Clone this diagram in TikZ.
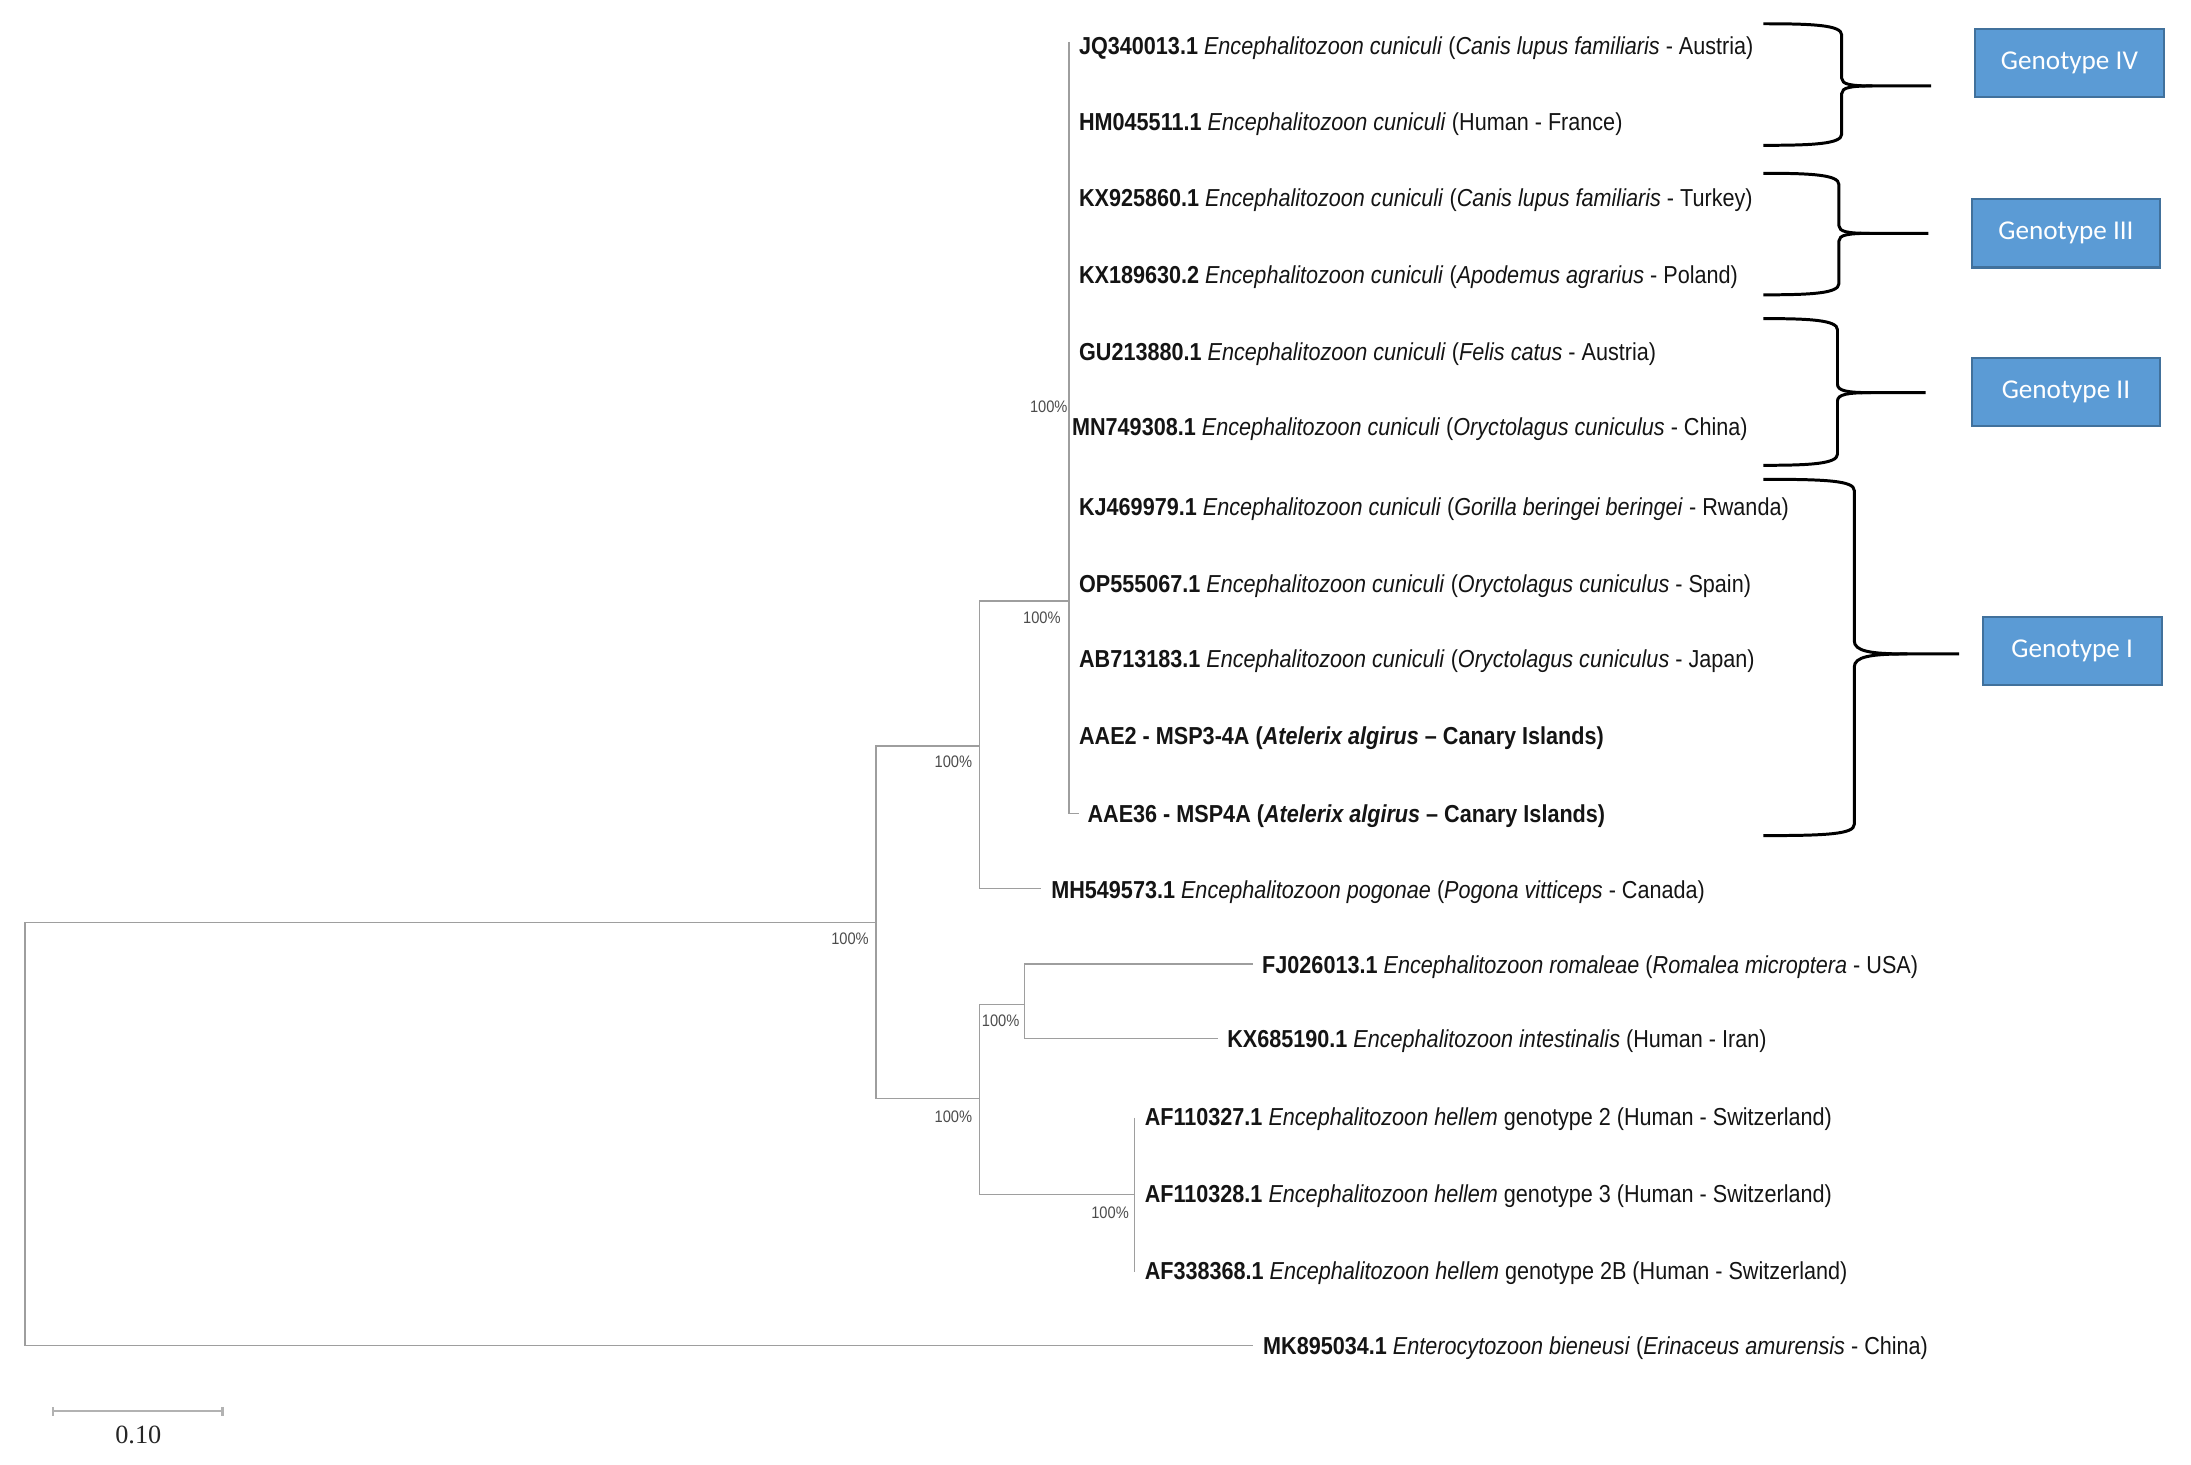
\documentclass[tikz,border=0pt]{standalone}
\usepackage{fontspec}
\setmainfont{Liberation Sans}
\newfontfamily\leaffont[FakeStretch=0.88]{Liberation Sans}
\newfontfamily\bootfont[FakeStretch=0.88]{Liberation Sans}
\newfontfamily\boxfont{Carlito}
\newfontfamily\barfont{Liberation Serif}
\usetikzlibrary{arrows.meta,positioning}
\definecolor{genofill}{RGB}{91,155,213}
\definecolor{genoedge}{RGB}{65,113,156}
\tikzset{
  treeline/.style={draw=black!38, line width=0.8pt},
  leaf/.style={anchor=west, inner sep=0pt, yshift=-0.06cm,
               font=\leaffont\fontsize{14}{16}\selectfont, text=black!92},
  boot/.style={inner sep=0pt, font=\bootfont\fontsize{9.5}{11}\selectfont, text=black!70},
  genobox/.style={rectangle, draw=genoedge, fill=genofill, line width=1.2pt,
                  text=white, font=\boxfont\fontsize{15.5}{18}\selectfont,
                  minimum width=3.78cm, minimum height=1.37cm, inner sep=0pt},
  bracearm/.style={draw=black, line width=1.7pt},
  scalebar/.style={draw=black!30, line width=1.2pt, {Bar[width=5pt]}-{Bar[width=5pt]}},
}
% curly brace: top y, bottom y, middle y, spine x, tip x, cusp width
\newcommand{\genobrace}[6]{%
  \draw[bracearm] (1262,#1) .. controls (#4-20,#1) and (#4,#1+1) .. (#4,#1+8)
    -- (#4,#3-0.25*#6) .. controls (#4,#3-0.05*#6) and (#4+0.3*#6,#3) .. (#4+#6,#3) -- (#5,#3);
  \draw[bracearm] (1262,#2) .. controls (#4-20,#2) and (#4,#2-1) .. (#4,#2-8)
    -- (#4,#3+0.25*#6) .. controls (#4,#3+0.05*#6) and (#4+0.3*#6,#3) .. (#4+#6,#3);
}
\begin{document}
\begin{tikzpicture}[x=0.028cm, y=-0.028cm]
  \useasboundingbox (0,0) rectangle (1568,1048);
  % inner nodes
  \coordinate (root) at (18,811);
  \coordinate (nA) at (627,660);
  \coordinate (nB) at (701,534);
  \coordinate (nC) at (765,430);
  \coordinate (nC2) at (766,278);
  \coordinate (nD) at (701,786);
  \coordinate (nE) at (733,719);
  \coordinate (nF) at (812,855);
  \coordinate (cTop) at (765,30);
  \coordinate (cBot) at (765,582);
  \coordinate (fTop) at (812,800);
  \coordinate (fBot) at (812,910);
  % branch tips
  \coordinate (tAAE) at (772,582);
  \coordinate (tMH) at (745,636);
  \coordinate (tFJ) at (897,690);
  \coordinate (tKX) at (872,743);
  \coordinate (tMK) at (897,963);

  % Encephalitozoon cuniculi clade
  \node[leaf] (jq) at (772,32) {\textbf{JQ340013.1} \textit{Encephalitozoon cuniculi} (\textit{Canis lupus familiaris} - Austria)};
  \node[leaf] (hm) at (772,87) {\textbf{HM045511.1} \textit{Encephalitozoon cuniculi} (Human - France)};
  \node[leaf] (kx92) at (772,141) {\textbf{KX925860.1} \textit{Encephalitozoon cuniculi} (\textit{Canis lupus familiaris} - Turkey)};
  \node[leaf] (kx18) at (772,196) {\textbf{KX189630.2} \textit{Encephalitozoon cuniculi} (\textit{Apodemus agrarius} - Poland)};
  \node[leaf] (gu) at (772,251) {\textbf{GU213880.1} \textit{Encephalitozoon cuniculi} (\textit{Felis catus} - Austria)};
  \node[leaf] (mn) at (767,305) {\textbf{MN749308.1} \textit{Encephalitozoon cuniculi} (\textit{Oryctolagus cuniculus} - China)};
  \node[leaf] (kj) at (772,362) {\textbf{KJ469979.1} \textit{Encephalitozoon cuniculi} (\textit{Gorilla beringei beringei} - Rwanda)};
  \node[leaf] (op) at (772,417) {\textbf{OP555067.1} \textit{Encephalitozoon cuniculi} (\textit{Oryctolagus cuniculus} - Spain)};
  \node[leaf] (ab) at (772,471) {\textbf{AB713183.1} \textit{Encephalitozoon cuniculi} (\textit{Oryctolagus cuniculus} - Japan)};
  \node[leaf] (aae2) at (772,526) {\textbf{AAE2 - MSP3-4A (\textit{Atelerix algirus} – Canary Islands)}};
  \node[leaf, right=0.17cm of tAAE] (aae36) {\textbf{AAE36 - MSP4A (\textit{Atelerix algirus} – Canary Islands)}};
  % other species
  \node[leaf, right=0.2cm of tMH] (mh) {\textbf{MH549573.1} \textit{Encephalitozoon pogonae} (\textit{Pogona vitticeps} - Canada)};
  \node[leaf, right=0.17cm of tFJ] (fj) {\textbf{FJ026013.1} \textit{Encephalitozoon romaleae} (\textit{Romalea microptera} - USA)};
  \node[leaf, right=0.17cm of tKX] (kx68) {\textbf{KX685190.1} \textit{Encephalitozoon intestinalis} (Human - Iran)};
  \node[leaf] (af1) at (819,799) {\textbf{AF110327.1} \textit{Encephalitozoon hellem} genotype 2 (Human - Switzerland)};
  \node[leaf] (af2) at (819,854) {\textbf{AF110328.1} \textit{Encephalitozoon hellem} genotype 3 (Human - Switzerland)};
  \node[leaf] (af3) at (819,909) {\textbf{AF338368.1} \textit{Encephalitozoon hellem} genotype 2B (Human - Switzerland)};
  \node[leaf, right=0.19cm of tMK] (mk) {\textbf{MK895034.1} \textit{Enterocytozoon bieneusi} (\textit{Erinaceus amurensis} - China)};

  % branches
  \draw[treeline] (root) |- (nA);
  \draw[treeline] (root) |- (tMK);
  \draw[treeline] (nA) |- (nB);
  \draw[treeline] (nA) |- (nD);
  \draw[treeline] (nB) |- (nC);
  \draw[treeline] (nB) |- (tMH);
  \draw[treeline] (cTop) -- (cBot) -- (tAAE);
  \draw[treeline] (nD) |- (nE);
  \draw[treeline] (nD) |- (nF);
  \draw[treeline] (nE) |- (tFJ);
  \draw[treeline] (nE) |- (tKX);
  \draw[treeline] (fTop) -- (fBot);

  % bootstrap values
  \node[boot, below left=0.2cm and 0.14cm of nA] (bA) {100\%};
  \node[boot, below left=0.18cm and 0.14cm of nB] (bB) {100\%};
  \node[boot, below left=0.22cm and 0.16cm of nC] (bC) {100\%};
  \node[boot, below left=0.24cm and 0.05cm of nC2] (bC2) {100\%};
  \node[boot, below left=0.2cm and 0.09cm of nE] (bE) {100\%};
  \node[boot, below left=0.24cm and 0.14cm of nD] (bD) {100\%};
  \node[boot, below left=0.24cm and 0.11cm of nF] (bF) {100\%};

  % scale bar
  \coordinate (sbL) at (37,1010);
  \coordinate (sbR) at (160,1010);
  \draw[scalebar] (sbL) -- (sbR);
  \node[font=\barfont\fontsize{15}{17}\selectfont, text=black!85] (sb) at (99,1027) {0.10};

  % genotype braces and boxes
  \genobrace{17}{104}{61.5}{1318}{1382}{22}
  \genobrace{124}{211}{167}{1316}{1380}{22}
  \genobrace{228}{333}{281}{1315}{1378}{24}
  \genobrace{343}{598}{468}{1327}{1402}{38}
  \node[genobox] (g4) at (1481,45) {Genotype IV};
  \node[genobox] (g3) at (1478.5,167) {Genotype III};
  \node[genobox] (g2) at (1478.5,280.5) {Genotype II};
  \node[genobox, minimum width=3.58cm] (g1) at (1483,466) {Genotype I};
\end{tikzpicture}
\end{document}
